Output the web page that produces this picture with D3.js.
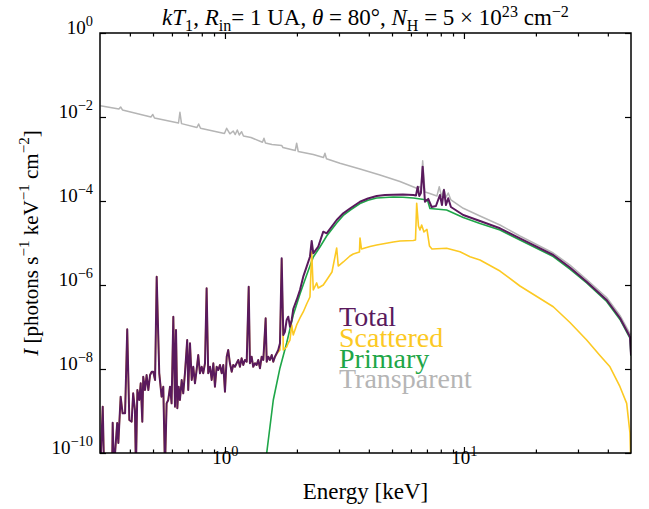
<!DOCTYPE html>
<html>
<head>
<meta charset="utf-8">
<script src="https://cdn.jsdelivr.net/npm/d3@7"></script>
<style>
  html, body { margin: 0; padding: 0; background: #fff; }
  svg { display: block; }
  svg text { font-family: "Liberation Serif", "DejaVu Serif", serif; }
</style>
</head>
<body>
<svg id="chart" width="649" height="509"></svg>
<script>
// ---- Spectra: [energy (keV), intensity (photons s^-1 keV^-1 cm^-2)] ----

// Soft band (< 1.6 keV) where the total is entirely scattered emission
const softBand = [
  [0.301,4e-11],[0.308,1.27e-9],[0.312,4e-11],[0.337,4e-11],[0.339,5.26e-10],[0.343,4e-11],
  [0.354,5.18e-10],[0.358,1.73e-10],[0.366,2.19e-9],[0.373,8.82e-10],[0.382,8.82e-10],[0.390,8.81e-8],
  [0.398,6.10e-10],[0.407,5.56e-10],[0.413,2.64e-9],[0.420,1.06e-9],[0.424,4e-11],[0.430,3.16e-9],
  [0.438,1.83e-9],[0.444,4.57e-9],[0.451,5.56e-10],[0.455,6.56e-9],[0.463,3.16e-9],[0.470,7.20e-9],
  [0.478,3.16e-9],[0.486,7.20e-9],[0.494,8.62e-9],[0.501,8.62e-9],[0.510,5.47e-9],[0.518,1.58e-6],
  [0.531,7.90e-9],[0.543,2.19e-9],[0.552,3.79e-9],[0.561,4e-11],[0.570,1.52e-9],[0.579,1.83e-9],
  [0.589,3.79e-9],[0.598,1.52e-9],[0.608,1.76e-7],[0.618,1.27e-9],[0.624,8.49e-8],[0.632,1.16e-9],
  [0.640,3.79e-9],[0.648,1.83e-9],[0.659,5.47e-9],[0.669,2.64e-9],[0.680,7.90e-9],[0.695,4.90e-8],
  [0.702,3.16e-9],[0.714,4.09e-8],[0.726,5.47e-9],[0.737,1.13e-8],[0.749,4.57e-9],[0.761,9.47e-9],
  [0.773,2.15e-8],[0.786,7.90e-9],[0.799,1.13e-8],[0.811,7.90e-9],[0.825,1.37e-8],[0.838,8.35e-7],
  [0.851,7.90e-9],[0.866,1.13e-8],[0.880,5.47e-9],[0.894,1.37e-8],[0.908,3.79e-9],[0.923,1.13e-8],
  [0.938,9.47e-9],[0.953,1.25e-8],[0.969,7.90e-9],[0.984,1.25e-8],[1.000,2.88e-9],[1.017,1.96e-8],
  [1.032,2.83e-8],[1.049,1.37e-8],[1.067,8.62e-9],[1.083,1.25e-8],[1.101,1.13e-8],[1.119,1.37e-8],
  [1.137,1.64e-8],[1.155,1.13e-8],[1.174,1.80e-8],[1.193,1.25e-8],[1.212,1.64e-8],[1.233,1.49e-8],
  [1.257,9.12e-7],[1.272,1.37e-8],[1.293,1.96e-8],[1.313,1.13e-8],[1.335,1.37e-8],[1.357,1.25e-8],
  [1.378,1.64e-8],[1.401,1.04e-8],[1.424,1.96e-8],[1.447,1.64e-8],[1.480,1.61e-7],[1.495,1.49e-8],
  [1.518,1.96e-8],[1.543,1.64e-8],[1.569,2.15e-8],[1.593,1.49e-8],[1.619,1.96e-8]
];

// Total spectrum above the soft band
const totalHard = [
  [1.646,2.37e-8],[1.671,2.83e-8],[1.699,4.09e-8],[1.727,4.32e-6],[1.754,6.45e-8],[1.782,7.73e-8],
  [1.812,1.47e-7],[1.840,1.76e-7],[1.871,1.02e-7],[1.902,1.47e-7],[1.931,2.68e-7],[1.995,4.40e-7],
  [2.060,7.60e-7],[2.126,1.58e-6],[2.197,2.73e-6],[2.268,4.72e-6],[2.306,1.12e-5],[2.342,5.69e-6],
  [2.457,8.17e-6],[2.578,1.86e-5],[2.664,1.70e-5],[2.934,3.53e-5],[3.126,5.09e-5],[3.334,6.62e-5],
  [3.673,9.62e-5],[3.966,1.15e-4],[4.313,1.32e-4],[4.673,1.39e-4],[5.060,1.41e-4],[5.556,1.43e-4],
  [6.138,1.39e-4],[6.299,1.35e-4],[6.404,2.19e-4],[6.501,1.32e-4],[6.607,1.55e-4],[6.718,6.56e-4],
  [6.868,9.62e-5],[7.089,1.12e-4],[7.326,7.20e-5],[7.635,7.60e-5],[7.934,1.39e-4],[8.09,8.03e-5],
  [8.245,1.83e-4],[8.41,8.03e-5],[8.594,1.16e-4],[8.82,7.20e-5],[9.933,4.64e-5],[11.67,3.34e-5],
  [14.15,2.24e-5],[17.15,1.29e-5],[23.64,5.18e-6],[27.77,2.61e-6],[32.62,1.20e-6],[39.55,4.40e-7],
  [44.96,1.64e-7],[49.50,5.88e-8],[50,2.15e-8]
];

// Scattered spectrum above the soft band
const scatteredHard = [
  [1.646,2.28e-8],[1.671,2.54e-8],[1.699,2.83e-8],[1.727,4.16e-6],[1.754,2.83e-8],[1.812,3.34e-8],
  [1.840,4.16e-8],[1.871,4.90e-8],[1.902,1.12e-7],[1.931,6.45e-8],[1.995,1.12e-7],[2.060,1.64e-7],
  [2.126,2.28e-7],[2.197,3.53e-7],[2.268,5.18e-7],[2.306,6.10e-6],[2.342,7.60e-7],[2.420,1.12e-6],
  [2.457,8.49e-7],[2.578,1.00e-6],[2.664,1.32e-6],[2.804,2.04e-6],[2.934,7.60e-6],[2.979,2.83e-6],
  [3.126,3.53e-6],[3.334,4.90e-6],[3.442,5.47e-6],[3.654,6.10e-6],[3.673,1.32e-5],[3.725,7.20e-6],
  [4.044,8.26e-6],[4.313,8.96e-6],[5.060,1.06e-5],[5.398,1.12e-5],[6.138,1.15e-5],[6.269,1.18e-5],
  [6.342,8.81e-5],[6.451,2.54e-5],[6.545,2.04e-5],[6.653,2.68e-5],[6.802,1.83e-5],[7.002,2.10e-5],
  [7.172,8.49e-6],[7.347,7.20e-6],[8.462,7.48e-6],[9.623,6.21e-6],[10.60,4.72e-6],[11.67,3.94e-6],
  [14.15,2.15e-6],[17.15,9.47e-7],[23.64,3.04e-7],[27.77,1.28e-7],[32.62,4.90e-8],[37.07,2.10e-8],
  [40.83,1.13e-8],[44.96,3.79e-9],[47.96,1.52e-9],[49.50,2.99e-10],[50,4e-11]
];

// Primary (directly transmitted) spectrum
const primary = [
  [1.46,4e-11],[1.495,1e-10],[1.593,1.83e-9],[1.699,1.06e-8],[1.812,4.16e-8],[1.931,1.93e-7],
  [2.060,6.11e-7],[2.197,1.73e-6],[2.342,4.64e-6],[2.497,8.03e-6],[2.664,1.47e-5],[2.934,2.99e-5],
  [3.126,4.52e-5],[3.334,6.01e-5],[3.673,8.71e-5],[3.966,1.04e-4],[4.313,1.18e-4],[4.673,1.21e-4],
  [5.060,1.25e-4],[5.556,1.23e-4],[6.138,1.18e-4],[7.036,1.06e-4],[7.207,6.62e-5],[8.462,6.10e-5],
  [9.933,4.05e-5],[11.67,2.91e-5],[14.15,2.04e-5],[17.15,1.18e-5],[23.64,4.77e-6],[27.77,2.40e-6],
  [32.62,1.12e-6],[39.55,4.05e-7],[44.96,1.51e-7],[49.50,5.47e-8],[50,2.04e-8]
];

// Unabsorbed (transparent) source spectrum
const transparent = [
  [0.301,1.86e-2],[0.360,1.55e-2],[0.366,1.73e-2],[0.3725,1.47e-2],[0.490,1.00e-2],[0.499,1.15e-2],
  [0.507,9.47e-3],[0.639,7.20e-3],[0.648,1.29e-2],[0.658,6.96e-3],[0.7635,5.62e-3],[0.776,6.81e-3],
  [0.790,5.38e-3],[0.995,4.05e-3],[1.0165,5.38e-3],[1.049,3.98e-3],[1.083,4.64e-3],[1.104,3.83e-3],
  [1.126,4.90e-3],[1.148,3.73e-3],[1.174,4.47e-3],[1.195,3.53e-3],[1.285,3.25e-3],[1.435,2.50e-3],
  [1.456,3.11e-3],[1.477,2.40e-3],[1.573,2.21e-3],[1.727,2.10e-3],[1.748,1.88e-3],[1.968,1.59e-3],
  [1.995,2.37e-3],[2.026,1.51e-3],[2.342,1.28e-3],[2.584,1.09e-3],[2.620,1.37e-3],[2.659,1.01e-3],
  [3.028,7.90e-4],[3.673,5.78e-4],[4.452,4.16e-4],[5.398,2.91e-4],[6.342,2.01e-4],[6.501,2.21e-4],
  [6.607,1.93e-4],[6.718,9.12e-4],[6.868,1.64e-4],[7.095,1.55e-4],[7.709,1.32e-4],[7.882,2.19e-4],
  [8.05,1.28e-4],[8.245,1.90e-4],[8.41,1.21e-4],[8.594,1.55e-4],[8.82,1.06e-4],[9.933,6.70e-5],
  [11.67,4.40e-5],[14.15,2.68e-5],[17.15,1.47e-5],[23.64,5.78e-6],[27.77,2.99e-6],[32.62,1.35e-6],
  [39.55,5.04e-7],[44.96,1.88e-7],[49.50,7.00e-8],[50,6.45e-8]
];

// ---- Axes: tick values and labels ----
const xMajorTicks = [1, 10];
const xMajorExp = ["0", "1"];
const xMinorTicks = [0.4, 0.5, 0.6, 0.7, 0.8, 0.9, 2, 3, 4, 5, 6, 7, 8, 9, 20, 30, 40];
const yMajorTicks = [1, 1e-2, 1e-4, 1e-6, 1e-8, 1e-10];
const yMajorExp = ["0", "\u22122", "\u22124", "\u22126", "\u22128", "\u221210"];

const legendItems = ["Total", "Scattered", "Primary", "Transparent"];
const colors = {
  Total: "#5a1a5d",
  Scattered: "#fcc923",
  Primary: "#1ea648",
  Transparent: "#b5b5b5"
};

const SERIF = "'Liberation Serif', 'DejaVu Serif', serif";

// ---- Layout ----
const plot = { left: 100, right: 631, top: 33, bottom: 453 };

const svg = d3.select("#chart");

const x = d3.scaleLog().domain([0.3, 50]).range([plot.left, plot.right]);
const y = d3.scaleLog().domain([1e-10, 1]).range([plot.bottom, plot.top]);

svg.append("defs").append("clipPath").attr("id", "plotClip")
  .append("rect")
  .attr("x", plot.left).attr("y", plot.top)
  .attr("width", plot.right - plot.left).attr("height", plot.bottom - plot.top);

const line = d3.line().x(d => x(d[0])).y(d => y(d[1]));

const series = [
  { name: "Transparent", data: transparent, width: 1.5 },
  { name: "Primary", data: primary, width: 1.6 },
  { name: "Scattered", data: softBand.concat(scatteredHard), width: 1.6 },
  { name: "Total", data: softBand.concat(totalHard), width: 2.0 }
];

const lines = svg.append("g").attr("clip-path", "url(#plotClip)");
series.forEach(s => {
  lines.append("path")
    .datum(s.data)
    .attr("fill", "none")
    .attr("stroke", colors[s.name])
    .attr("stroke-width", s.width)
    .attr("stroke-linejoin", "round")
    .attr("d", line);
});

// Rich text helper: italic, subscript and superscript runs
function rich(sel, fs, parts, supRise = 0.42, smallScale = 0.72) {
  let cur = 0;
  parts.forEach(p => {
    const off = p.sub ? 0.28 * fs : p.sup ? -supRise * fs : 0;
    const ts = sel.append("tspan").attr("dy", (off - cur).toFixed(2)).text(p.t);
    if (p.sub || p.sup) ts.attr("font-size", (smallScale * fs).toFixed(1));
    if (p.i) ts.attr("font-style", "italic");
    cur = off;
  });
}

function powerLabel(textSel, exp, fs) {
  textSel.text(null);
  rich(textSel, fs, [{ t: "10" }, { t: exp, sup: true }], 0.42, 0.76);
}

const tickFont = 19;

// Bottom axis: major ticks with labels
const xAxisMajor = svg.append("g")
  .attr("transform", `translate(0,${plot.bottom})`)
  .call(d3.axisBottom(x).tickValues(xMajorTicks).tickSize(-6).tickSizeOuter(0).tickPadding(11));
xAxisMajor.attr("font-family", SERIF).attr("font-size", tickFont);
xAxisMajor.selectAll(".tick text").each(function (d, i) {
  const t = d3.select(this).attr("dy", "0.71em").attr("fill", "#000");
  powerLabel(t, xMajorExp[i], tickFont);
});
// Bottom axis: minor ticks
svg.append("g")
  .attr("transform", `translate(0,${plot.bottom})`)
  .call(d3.axisBottom(x).tickValues(xMinorTicks).tickSize(-3.5).tickSizeOuter(0).tickFormat(""));
// Top axis: major and minor ticks, no labels
svg.append("g")
  .attr("transform", `translate(0,${plot.top})`)
  .call(d3.axisTop(x).tickValues(xMajorTicks).tickSize(-6).tickSizeOuter(0).tickFormat(""));
svg.append("g")
  .attr("transform", `translate(0,${plot.top})`)
  .call(d3.axisTop(x).tickValues(xMinorTicks).tickSize(-3.5).tickSizeOuter(0).tickFormat(""));

// Left axis with labels
const yAxisLeft = svg.append("g")
  .attr("transform", `translate(${plot.left},0)`)
  .call(d3.axisLeft(y).tickValues(yMajorTicks).tickSize(-6).tickSizeOuter(0).tickPadding(7));
yAxisLeft.attr("font-family", SERIF).attr("font-size", tickFont);
yAxisLeft.selectAll(".tick text").each(function (d, i) {
  const t = d3.select(this).attr("dy", "0.36em").attr("fill", "#000");
  powerLabel(t, yMajorExp[i], tickFont);
});
// Right axis ticks
svg.append("g")
  .attr("transform", `translate(${plot.right},0)`)
  .call(d3.axisRight(y).tickValues(yMajorTicks).tickSize(-6).tickSizeOuter(0).tickFormat(""));

svg.selectAll(".domain").remove();
svg.selectAll(".tick line").attr("stroke", "#000").attr("stroke-width", 1.2);

// Plot frame
svg.append("rect")
  .attr("x", plot.left).attr("y", plot.top)
  .attr("width", plot.right - plot.left).attr("height", plot.bottom - plot.top)
  .attr("fill", "none").attr("stroke", "#000").attr("stroke-width", 1.5);

// Title
const titleFont = 23;
const title = svg.append("text")
  .attr("x", (plot.left + plot.right) / 2).attr("y", 25)
  .attr("text-anchor", "middle").attr("font-family", SERIF)
  .attr("font-size", titleFont).attr("fill", "#000");
rich(title, titleFont, [
  { t: "kT", i: true }, { t: "1", sub: true }, { t: ", " },
  { t: "R", i: true }, { t: "in", sub: true }, { t: "= 1 UA, " },
  { t: "\u03b8", i: true }, { t: " = 80\u00b0, " },
  { t: "N", i: true }, { t: "H", sub: true }, { t: " = 5 \u00d7 10" }, { t: "23", sup: true },
  { t: " cm" }, { t: "\u22122", sup: true }
], 0.34, 0.7);

// Axis labels
svg.append("text")
  .attr("x", (plot.left + plot.right) / 2).attr("y", 499)
  .attr("text-anchor", "middle").attr("font-family", SERIF)
  .attr("font-size", 23).attr("fill", "#000")
  .text("Energy [keV]");

const yLabelFont = 21;
const yLabel = svg.append("text")
  .attr("transform", `translate(38,${(plot.top + plot.bottom) / 2}) rotate(-90)`)
  .attr("text-anchor", "middle").attr("font-family", SERIF)
  .attr("font-size", yLabelFont).attr("fill", "#000");
rich(yLabel, yLabelFont, [
  { t: "I", i: true }, { t: " [photons s" }, { t: "\u22121", sup: true },
  { t: " keV" }, { t: "\u22121", sup: true }, { t: " cm" }, { t: "\u22122", sup: true }, { t: "]" }
]);

// Legend: coloured labels only
const legendFont = 28;
const legend = svg.append("g").attr("transform", "translate(339,326)");
legendItems.forEach((name, i) => {
  legend.append("text")
    .attr("x", 0).attr("y", i * 20.8)
    .attr("font-family", SERIF)
    .attr("font-size", legendFont)
    .attr("fill", colors[name])
    .text(name);
});
</script>
</body>
</html>
